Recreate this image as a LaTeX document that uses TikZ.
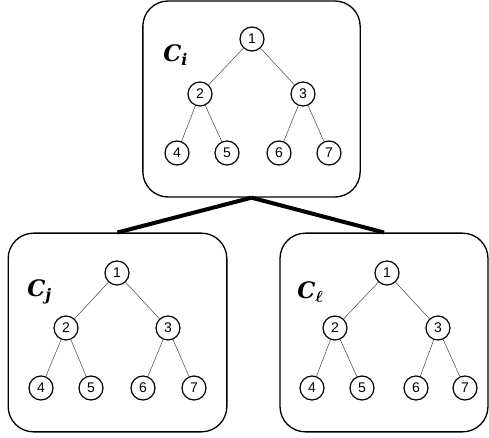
\documentclass[tikz,border=0pt]{standalone}
\usepackage{fontspec}
\newfontfamily\digfont{Liberation Sans}
\newfontfamily\labfont{DejaVu Serif}
\newcommand{\clab}[1]{{\labfont\bfseries\itshape\fontsize{17}{20}\selectfont C\raisebox{-3.5pt}{\fontsize{12}{14}\selectfont #1}}}
\begin{document}
\begin{tikzpicture}[x=0.75pt,y=-0.75pt,
  cluster/.style={draw,line width=1pt,rounded corners=19pt,inner sep=0pt},
  vtx/.style={draw,circle,line width=0.9pt,minimum size=18pt,inner sep=0pt,font=\digfont\fontsize{10.5}{12}\selectfont},
  tedge/.style={draw=black!70,line width=0.4pt},
  link/.style={line width=3pt},
  clabel/.style={anchor=west,inner sep=0pt}]
\useasboundingbox (0,0) rectangle (489,438);
% boxes
\node[cluster,minimum width=163pt,minimum height=147pt] (top) at (251.5,99) {};
\node[cluster,minimum width=164pt,minimum height=149pt] (bl) at (117.5,332.5) {};
\node[cluster,minimum width=156pt,minimum height=149pt] (br) at (384,332.5) {};
\draw[link] (top.south) -- (bl.north);
\draw[link] (top.south) -- (br.north);
% labels
\node[clabel] (li) at (163,55) {\clab{i}};
\node[clabel] (lj) at (27,292) {\clab{j}};
\node[clabel] (ll) at (297,292) {\clab{{\boldmath$\ell$}}};
% top tree
\node[vtx] (a1) at (252,39) {1};
\node[vtx] (a2) at (200,94) {2};
\node[vtx] (a3) at (303,94) {3};
\node[vtx] (a4) at (177,153) {4};
\node[vtx] (a5) at (227,153) {5};
\node[vtx] (a6) at (279,153) {6};
\node[vtx] (a7) at (329,153) {7};
% left tree
\node[vtx] (b1) at (117,273) {1};
\node[vtx] (b2) at (66,328) {2};
\node[vtx] (b3) at (168,328) {3};
\node[vtx] (b4) at (41,388) {4};
\node[vtx] (b5) at (91,388) {5};
\node[vtx] (b6) at (143,388) {6};
\node[vtx] (b7) at (194,388) {7};
% right tree
\node[vtx] (c1) at (387,273) {1};
\node[vtx] (c2) at (335,328) {2};
\node[vtx] (c3) at (438,328) {3};
\node[vtx] (c4) at (312,388) {4};
\node[vtx] (c5) at (362,388) {5};
\node[vtx] (c6) at (416,388) {6};
\node[vtx] (c7) at (465,388) {7};
\foreach \t in {a,b,c}{
  \draw[tedge] (\t1) -- (\t2);
  \draw[tedge] (\t1) -- (\t3);
  \draw[tedge] (\t2) -- (\t4);
  \draw[tedge] (\t2) -- (\t5);
  \draw[tedge] (\t3) -- (\t6);
  \draw[tedge] (\t3) -- (\t7);
}
\end{tikzpicture}
\end{document}
